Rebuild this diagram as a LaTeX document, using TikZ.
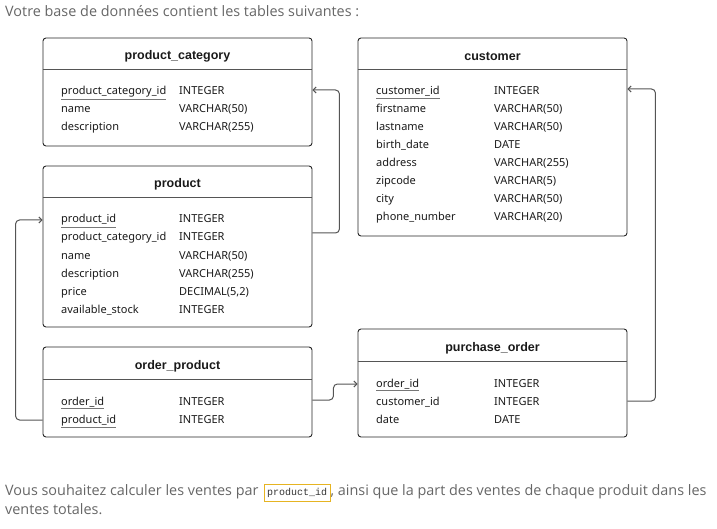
\documentclass[tikz,border=0pt]{standalone}
\usepackage{fontspec}
\setmainfont{Noto Sans}
\newfontfamily\titlefont{Liberation Sans}
\newfontfamily\pagefont{Open Sans}
\setmonofont{Liberation Mono}
\usetikzlibrary{positioning, arrows.meta}

\definecolor{txt}{HTML}{1A1A1A}
\definecolor{pagetxt}{HTML}{666666}
\definecolor{linegray}{HTML}{555555}
\definecolor{ulgray}{HTML}{777777}
\definecolor{codegold}{HTML}{E6B422}

% underlined key field
\newcommand{\pk}[1]{{\color{ulgray}$\underline{\hbox{\color{txt}#1}}$}}
% one field row: node name, x, baseline y, column name, column type
\newcommand{\field}[5]{%
    \node[fname] (#1) at (#2,#3) {#4};
    \node[ftype] (#1-type) at ([xshift=118pt]#1.base west) {#5};
}

\begin{document}
\begin{tikzpicture}[
    x=1pt, y=-1pt,
    % GLOBAL CFG
    font=\fontsize{11}{13}\selectfont,
    >={Straight Barb[length=3pt,width=6pt]},
    % Styles
    table/.style={% For table boxes
        rectangle,
        rounded corners=3pt,
        draw=black!85,
        line width=0.9pt,
        minimum width=269pt,
        inner sep=0pt,
    },
    title/.style={% For table names
        font=\titlefont\bfseries\fontsize{12.5}{14}\selectfont,
        text=txt,
        inner sep=0pt,
    },
    headsep/.style={% Line under table name
        draw=linegray,
        line width=1pt,
    },
    fname/.style={% Column names
        anchor=base west,
        text=txt,
        inner sep=0pt,
    },
    ftype/.style={% Column types
        anchor=base west,
        text=txt,
        inner sep=0pt,
    },
    link/.style={% Connectors with rounded corners
        draw=linegray,
        line width=1pt,
        rounded corners=4pt,
        ->,
    },
    para/.style={% Page text
        font=\pagefont\fontsize{14.4}{17}\selectfont,
        text=pagetxt,
        inner sep=0pt,
    },
    code/.style={% Inline code
        draw=codegold,
        line width=0.8pt,
        font=\ttfamily\fontsize{10}{12}\selectfont,
        text=black!80,
        inner xsep=3pt,
        minimum height=17pt,
    },
    ]

    \useasboundingbox (0,0) rectangle (717,529);

    % Page text
    \node[para, anchor=west] (intro) at (5,11) {Votre base de données contient les tables suivantes :};

    % Draw tables
    \node[table, minimum height=108pt] (pcat) at (177.5,92) {};
    \node[table, minimum height=198pt] (cust) at (492.5,137) {};
    \node[table, minimum height=161pt] (prod) at (177.5,246.5) {};
    \node[table, minimum height=90pt] (ordp) at (177.5,392) {};
    \node[table, minimum height=108pt] (pord) at (492.5,383) {};

    % Table names
    \node[title] (pcat-t) at ([yshift=-18.5pt]pcat.north) {product\_category};
    \node[title] (cust-t) at ([yshift=-18.5pt]cust.north) {customer};
    \node[title] (prod-t) at ([yshift=-18.5pt]prod.north) {product};
    \node[title] (ordp-t) at ([yshift=-19.5pt]ordp.north) {order\_product};
    \node[title] (pord-t) at ([yshift=-19.5pt]pord.north) {purchase\_order};

    % Lines under names
    \draw[headsep] ([yshift=-32pt]pcat.north west) -- ([yshift=-32pt]pcat.north east);
    \draw[headsep] ([yshift=-32pt]cust.north west) -- ([yshift=-32pt]cust.north east);
    \draw[headsep] ([yshift=-32pt]prod.north west) -- ([yshift=-32pt]prod.north east);
    \draw[headsep] ([yshift=-33pt]ordp.north west) -- ([yshift=-33pt]ordp.north east);
    \draw[headsep] ([yshift=-33pt]pord.north west) -- ([yshift=-33pt]pord.north east);

    % Fields of product_category
    \field{pcat-f1}{61}{95}{\pk{product\_category\_id}}{INTEGER}
    \field{pcat-f2}{61}{113}{name}{VARCHAR(50)}
    \field{pcat-f3}{61}{131}{description}{VARCHAR(255)}

    % Fields of customer
    \field{cust-f1}{376}{95}{\pk{customer\_id}}{INTEGER}
    \field{cust-f2}{376}{113}{firstname}{VARCHAR(50)}
    \field{cust-f3}{376}{131}{lastname}{VARCHAR(50)}
    \field{cust-f4}{376}{149}{birth\_date}{DATE}
    \field{cust-f5}{376}{167}{address}{VARCHAR(255)}
    \field{cust-f6}{376}{185}{zipcode}{VARCHAR(5)}
    \field{cust-f7}{376}{203}{city}{VARCHAR(50)}
    \field{cust-f8}{376}{221}{phone\_number}{VARCHAR(20)}

    % Fields of product
    \field{prod-f1}{61}{223}{\pk{product\_id}}{INTEGER}
    \field{prod-f2}{61}{241}{product\_category\_id}{INTEGER}
    \field{prod-f3}{61}{259}{name}{VARCHAR(50)}
    \field{prod-f4}{61}{277}{description}{VARCHAR(255)}
    \field{prod-f5}{61}{295}{price}{DECIMAL(5,2)}
    \field{prod-f6}{61}{313}{available\_stock}{INTEGER}

    % Fields of order_product
    \field{ordp-f1}{61}{405}{\pk{order\_id}}{INTEGER}
    \field{ordp-f2}{61}{423}{\pk{product\_id}}{INTEGER}

    % Fields of purchase_order
    \field{pord-f1}{376}{387}{\pk{order\_id}}{INTEGER}
    \field{pord-f2}{376}{405}{customer\_id}{INTEGER}
    \field{pord-f3}{376}{423}{date}{DATE}

    % Connect all
    \draw[link] ([yshift=8pt]prod.east |- prod-f2.base) -- ++(27,0) |- ([yshift=5pt]pcat.east |- pcat-f1-type.base);
    \draw[link] ([yshift=3pt]ordp.west |- ordp-f2-type.base) -- ++(-27,0) |- ([yshift=3pt]prod.west |- prod-f1-type.base);
    \draw[link] ([yshift=5pt]ordp.east |- ordp-f1-type.base) -- ++(21,0) |- ([yshift=3pt]pord.west |- pord-f1-type.base);
    \draw[link] ([yshift=4pt]pord.east |- pord-f2.base) -- ++(28,0) |- ([yshift=6pt]cust.east |- cust-f1-type.base);

    % Closing text
    \node[para, anchor=base west] (outro1) at (5,495) {Vous souhaitez calculer les ventes par};
    \node[code, anchor=base west] (outro-code) at ([xshift=5pt]outro1.base east) {product\_id};
    \node[para, anchor=base west] (outro2) at (outro-code.base east) {, ainsi que la part des ventes de chaque produit dans les};
    \node[para, anchor=base west] (outro3) at (5,514) {ventes totales.};

\end{tikzpicture}
\end{document}
